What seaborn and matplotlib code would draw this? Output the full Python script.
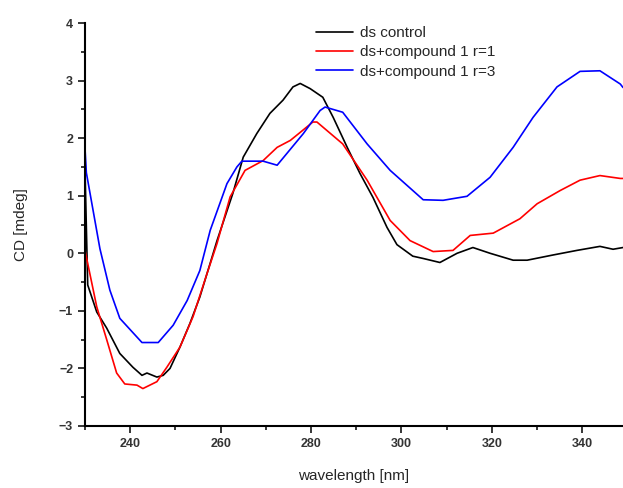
import numpy as np
import pandas as pd
import matplotlib
matplotlib.use("Agg")
import matplotlib.pyplot as plt
import seaborn as sns
from matplotlib.ticker import MultipleLocator

sns.set_style("ticks")
plt.rcParams['font.family'] = ['Liberation Sans', 'DejaVu Sans']

# ds control
wl_ctrl = [230.0, 230.6, 232.6, 234.8, 237.7, 240.6, 242.6, 243.7, 245.9, 247.3, 248.8,
           251.0, 253.2, 255.4, 257.7, 259.2, 262.7, 265.0, 268.0, 270.9, 273.8, 276.0,
           277.6, 279.8, 282.6, 284.9, 288.0, 290.8, 293.7, 296.8, 299.0, 302.5, 304.8,
           308.5, 312.3, 315.8, 319.6, 324.7, 327.8, 333.5, 338.8, 343.9, 346.8, 349.0]
cd_ctrl = [1.45, -0.55, -1.02, -1.30, -1.74, -1.98, -2.12, -2.08, -2.15, -2.12, -2.00,
           -1.63, -1.22, -0.76, -0.17, 0.22, 1.04, 1.67, 2.08, 2.43, 2.66, 2.89,
           2.95, 2.86, 2.71, 2.36, 1.84, 1.39, 0.97, 0.45, 0.15, -0.05, -0.09,
           -0.16, 0.00, 0.10, 0.00, -0.12, -0.12, -0.03, 0.05, 0.12, 0.07, 0.10]

# ds+compound 1 r=1
wl_r1 = [230.0, 232.6, 234.8, 237.0, 238.8, 241.5, 242.8, 245.9, 248.1, 251.0, 253.9,
         257.0, 259.2, 262.1, 265.4, 269.4, 272.5, 275.4, 277.6, 280.4, 281.3, 287.0,
         292.4, 297.5, 301.9, 307.0, 311.4, 315.2, 320.3, 326.2, 330.0, 335.1, 339.5,
         343.9, 348.4, 349.0]
cd_r1 = [0.05, -0.93, -1.50, -2.08, -2.27, -2.29, -2.35, -2.23, -1.98, -1.63, -1.10,
         -0.35, 0.17, 0.98, 1.44, 1.61, 1.84, 1.96, 2.10, 2.28, 2.28, 1.90,
         1.27, 0.57, 0.22, 0.03, 0.05, 0.31, 0.35, 0.60, 0.86, 1.09, 1.27,
         1.35, 1.30, 1.30]

# ds+compound 1 r=3
wl_r3 = [230.0, 230.3, 233.3, 235.5, 237.7, 242.6, 246.2, 249.5, 252.6, 255.4, 257.7,
         261.4, 263.6, 264.7, 269.4, 272.5, 278.3, 282.0, 283.1, 287.0, 292.4, 297.5,
         304.8, 309.2, 314.5, 319.6, 324.7, 329.1, 334.4, 339.5, 343.9, 348.4, 349.0]
cd_r3 = [1.82, 1.40, 0.08, -0.64, -1.13, -1.55, -1.55, -1.25, -0.82, -0.30, 0.40,
         1.21, 1.50, 1.60, 1.60, 1.53, 2.08, 2.48, 2.54, 2.45, 1.90, 1.44,
         0.93, 0.92, 0.99, 1.32, 1.84, 2.36, 2.89, 3.16, 3.17, 2.94, 2.88]

labels = ["ds control", "ds+compound 1 r=1", "ds+compound 1 r=3"]
colors = ["black", "red", "blue"]

df = pd.concat([
    pd.DataFrame({"wl": wl_ctrl, "cd": cd_ctrl, "sample": labels[0]}),
    pd.DataFrame({"wl": wl_r1, "cd": cd_r1, "sample": labels[1]}),
    pd.DataFrame({"wl": wl_r3, "cd": cd_r3, "sample": labels[2]}),
], ignore_index=True)

fig = plt.figure(figsize=(6.23, 4.88), dpi=100)
ax = fig.add_axes([85 / 623, 62 / 488, 538 / 623, 403 / 488])

sns.lineplot(data=df, x="wl", y="cd", hue="sample", palette=colors,
             estimator=None, sort=False, linewidth=1.2, ax=ax)

ax.set_xlim(230, 349)
ax.set_ylim(-3, 4)
ax.xaxis.set_minor_locator(MultipleLocator(10))
ax.yaxis.set_major_locator(MultipleLocator(1))
ax.yaxis.set_minor_locator(MultipleLocator(0.5))
ax.set_xticks([240, 260, 280, 300, 320, 340])
ax.tick_params(which="major", length=5, width=1.3, direction="out", labelsize=9)
ax.tick_params(which="minor", length=3, width=1.3, direction="out")
for lab in ax.get_xticklabels() + ax.get_yticklabels():
    lab.set_fontweight("bold")
    lab.set_color("#333333")

for s in ["top", "right"]:
    ax.spines[s].set_visible(False)
for s in ["left", "bottom"]:
    ax.spines[s].set_linewidth(1.5)
    ax.spines[s].set_color("black")

ax.set_xlabel("wavelength [nm]", fontsize=11, labelpad=14)
ax.set_ylabel("CD [mdeg]", fontsize=11, labelpad=22)

ax.legend(title=None, frameon=False, loc="upper left",
          bbox_to_anchor=(316 / 623, 1 - 26 / 488), bbox_transform=fig.transFigure,
          fontsize=11, handlelength=2.4, handletextpad=0.5, labelspacing=0.35,
          borderpad=0, borderaxespad=0)

fig.savefig("out.png", dpi=100)
